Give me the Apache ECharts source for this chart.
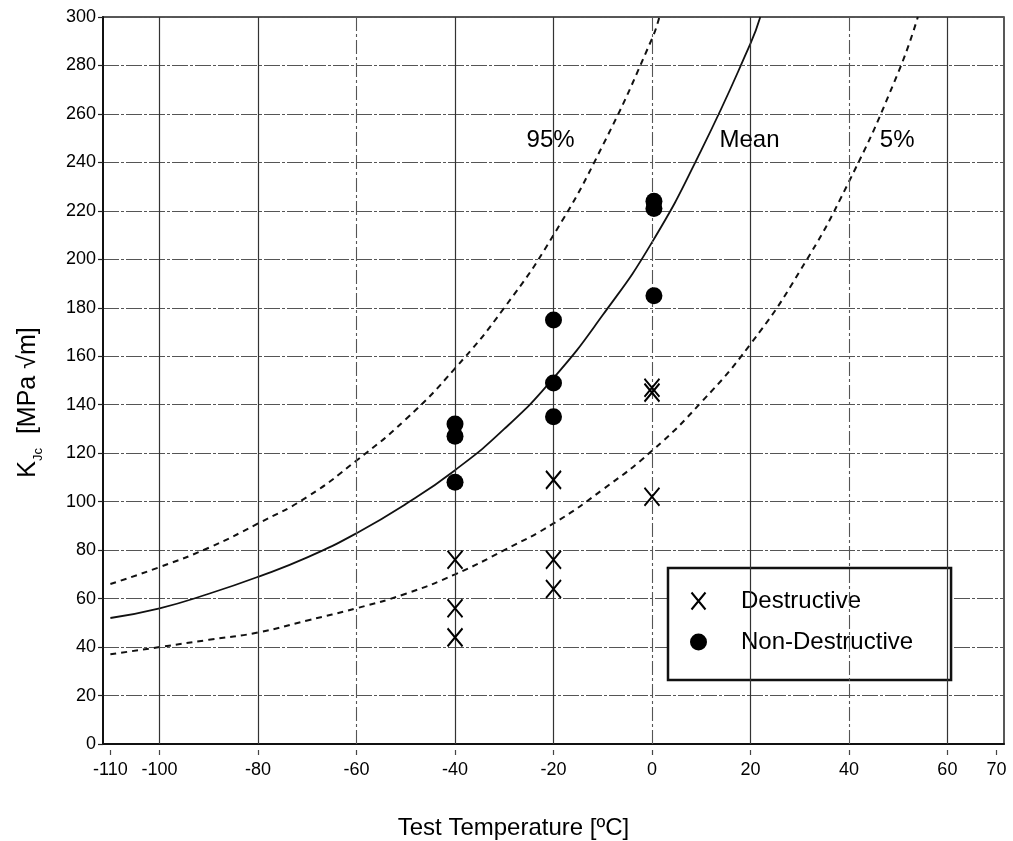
<!DOCTYPE html>
<html>
<head>
<meta charset="utf-8">
<title>Fracture toughness vs test temperature</title>
<script src="https://cdn.jsdelivr.net/npm/echarts@6/dist/echarts.min.js"></script>
<style>
  html, body { margin: 0; padding: 0; background: #ffffff; }
  #chart { width: 1013px; height: 841px; }
</style>
</head>
<body>
<div id="chart"></div>
<script>
// Test temperatures (ºC) and measured K_Jc values (MPa √m)
const destructiveTemp = [-40, -40, -40, -20, -20, -20, 0, 0, 0];
const destructiveK    = [76, 56, 44, 109, 76, 64, 147, 145, 102];

const nonDestructiveTemp = [-40, -40, -40, -20, -20, -20, 0.4, 0.4, 0.4];
const nonDestructiveK    = [132, 127, 108, 175, 149, 135, 224, 221, 185];

// Master-curve bands read along the temperature axis
const meanTemp = [-110, -100, -90, -80, -70, -60, -50, -40, -30, -20, -10, 0, 10, 20, 22];
const meanK    = [52, 56, 62, 69, 77, 87, 99, 113, 130, 151, 177, 207, 245, 289, 300];

const upperTemp = [-110, -100, -90, -80, -70, -60, -50, -40, -30, -20, -10, 0, 1.5];
const upperK    = [66, 73, 81, 91, 102, 117, 134, 155, 180, 210, 247, 291, 300];

const lowerTemp = [-110, -100, -90, -80, -70, -60, -50, -40, -30, -20, -10, 0, 10, 20, 30, 40, 50, 54];
const lowerK    = [37, 40, 43, 46, 51, 56, 62, 70, 80, 91, 105, 121, 141, 165, 195, 232, 277, 300];

// Axis ticks
const xTickValues = [-110, -100, -80, -60, -40, -20, 0, 20, 40, 60, 70];
const xGridSolid  = [-100, -80, -40, -20, 20, 60];
const xGridDashed = [-60, 0, 40];

// Curve captions
const curveLabels = [
  { text: '95%',  temp: -20.6, k: 249 },
  { text: 'Mean', temp: 19.8,  k: 249 },
  { text: '5%',   temp: 49.8,  k: 249 }
];

const pairs = (xs, ys) => xs.map((x, i) => [x, ys[i]]);

const FONT = '"Liberation Sans", Arial, Helvetica, sans-serif';
const INK = '#000000';
const CROSS = 'path://M0,0L14,17M14,0L0,17';

const gridMarks = []
  .concat(xGridSolid.map(v => ({ xAxis: v, lineStyle: { type: 'solid', color: '#333', width: 1.2 } })))
  .concat(xGridDashed.map(v => ({ xAxis: v, lineStyle: { type: [14, 3, 3, 3], color: '#555', width: 1.1 } })));

const captionLabel = { show: true, position: 'inside', formatter: '{b}', fontFamily: FONT, fontSize: 24, color: INK };

const chart = echarts.init(document.getElementById('chart'), null, { renderer: 'canvas' });

chart.setOption({
  backgroundColor: '#ffffff',
  animation: false,
  textStyle: { fontFamily: FONT, color: INK },
  grid: {
    left: 103, right: 9, top: 17, bottom: 97,
    outerBoundsMode: 'none',
    containLabel: false,
    show: true, borderColor: '#222', borderWidth: 1.5, backgroundColor: 'transparent'
  },
  xAxis: {
    type: 'value',
    min: -111.5,
    max: 71.5,
    name: 'Test Temperature [ºC]',
    nameLocation: 'middle',
    nameGap: 72,
    nameTextStyle: { fontFamily: FONT, fontSize: 24, color: INK, padding: [0, 80, 0, 0] },
    axisLine: { show: true, onZero: false, lineStyle: { color: '#111', width: 2 } },
    axisTick: {
      show: true, length: 12, customValues: xTickValues,
      lineStyle: { color: '#444', width: 1.2, type: [0.01, 6, 5, 30] }
    },
    axisLabel: {
      customValues: xTickValues,
      fontFamily: FONT, fontSize: 18, color: INK, margin: 17
    },
    splitLine: { show: false }
  },
  yAxis: {
    type: 'value',
    min: 0,
    max: 300,
    interval: 20,
    name: '{k|K}{s|Jc}{k|  [MPa √m]}',
    nameLocation: 'middle',
    nameGap: 62,
    nameRotate: 90,
    nameTextStyle: {
      fontFamily: FONT, color: INK,
      padding: [0, 44, 0, 0],
      rich: {
        k: { fontFamily: FONT, fontSize: 25, color: INK },
        s: { fontFamily: FONT, fontSize: 13, color: INK, verticalAlign: 'bottom', padding: [0, 0, -4, 0] }
      }
    },
    axisLine: { show: true, onZero: false, lineStyle: { color: '#111', width: 2 } },
    axisTick: { show: true, length: 5, lineStyle: { color: '#222', width: 1.2 } },
    axisLabel: { fontFamily: FONT, fontSize: 18, color: INK, margin: 7 },
    splitLine: { show: true, lineStyle: { color: '#555', width: 1.1, type: [16, 2, 3, 2] } }
  },
  legend: {
    data: ['Destructive', 'Non-Destructive'],
    orient: 'vertical',
    left: 668,
    top: 568,
    padding: [21, 38, 26, 22],
    itemGap: 17,
    itemWidth: 17,
    itemHeight: 17,
    backgroundColor: '#ffffff',
    borderColor: '#111',
    borderWidth: 2.5,
    borderRadius: 0,
    selectedMode: false,
    formatter: '{t|{name}}',
    textStyle: {
      fontFamily: FONT, fontSize: 24, color: INK,
      rich: { t: { fontFamily: FONT, fontSize: 24, color: INK, padding: [0, 0, 0, 29] } }
    }
  },
  series: [
    {
      name: 'grid',
      type: 'line',
      data: [],
      silent: true,
      z: 1,
      markLine: {
        silent: true,
        symbol: ['none', 'none'],
        label: { show: false },
        animation: false,
        data: gridMarks
      }
    },
    {
      name: '95%',
      type: 'line',
      data: pairs(upperTemp, upperK),
      smooth: true,
      showSymbol: false,
      symbol: 'none',
      z: 3,
      lineStyle: { color: '#111', width: 2, type: [6, 5] },
      markPoint: {
        symbol: 'circle', symbolSize: 0, silent: true, label: captionLabel,
        data: [{ name: curveLabels[0].text, coord: [curveLabels[0].temp, curveLabels[0].k] }]
      }
    },
    {
      name: 'Mean',
      type: 'line',
      data: pairs(meanTemp, meanK),
      smooth: true,
      showSymbol: false,
      symbol: 'none',
      z: 3,
      lineStyle: { color: '#111', width: 1.8, type: 'solid' },
      markPoint: {
        symbol: 'circle', symbolSize: 0, silent: true, label: captionLabel,
        data: [{ name: curveLabels[1].text, coord: [curveLabels[1].temp, curveLabels[1].k] }]
      }
    },
    {
      name: '5%',
      type: 'line',
      data: pairs(lowerTemp, lowerK),
      smooth: true,
      showSymbol: false,
      symbol: 'none',
      z: 3,
      lineStyle: { color: '#111', width: 2, type: [6, 5] },
      markPoint: {
        symbol: 'circle', symbolSize: 0, silent: true, label: captionLabel,
        data: [{ name: curveLabels[2].text, coord: [curveLabels[2].temp, curveLabels[2].k] }]
      }
    },
    {
      name: 'Destructive',
      type: 'scatter',
      data: pairs(destructiveTemp, destructiveK),
      symbol: CROSS,
      symbolSize: [15, 18],
      z: 5,
      itemStyle: { color: 'rgba(0,0,0,0)', borderColor: '#000', borderWidth: 2, opacity: 1 }
    },
    {
      name: 'Non-Destructive',
      type: 'scatter',
      data: pairs(nonDestructiveTemp, nonDestructiveK),
      symbol: 'circle',
      symbolSize: 17,
      z: 5,
      itemStyle: { color: '#000', opacity: 1 }
    }
  ]
});
</script>
</body>
</html>
